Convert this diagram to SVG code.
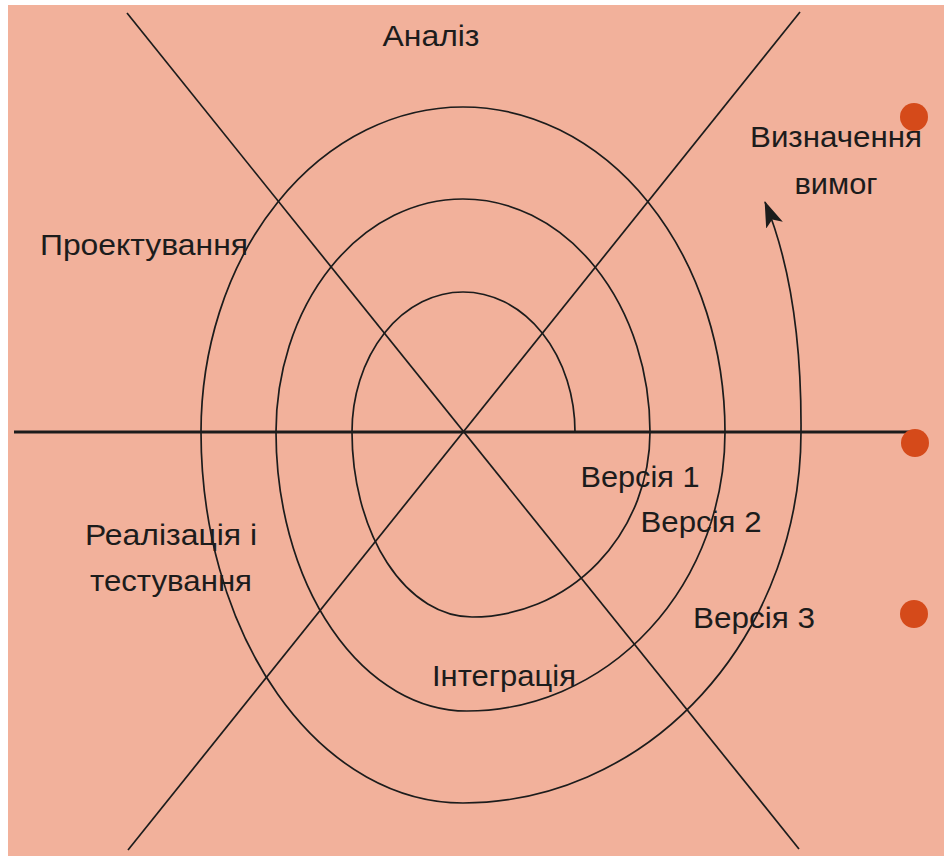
<svg xmlns="http://www.w3.org/2000/svg" width="944" height="856" viewBox="0 0 944 856">
  <style>
    .ln { fill: none; stroke: #1c1c1c; stroke-width: 1.7; }
    .axis { fill: none; stroke: #1c1c1c; stroke-width: 3; }
    .lbl { font-family: "Liberation Sans", Arial, sans-serif; font-size: 30px; fill: #1c1c1c; text-anchor: middle; }
    .dot { fill: #D54A1A; }
  </style>
  <defs>
    <marker id="arrow" viewBox="0 0 26 18" refX="25" refY="9" markerWidth="26" markerHeight="18" markerUnits="userSpaceOnUse" orient="auto">
      <path d="M0,0 L26,9 L0,18 L6,9 z" fill="#1c1c1c"/>
    </marker>
  </defs>
  <rect x="0" y="0" width="944" height="856" fill="#ffffff"/>
  <rect x="8" y="5" width="936" height="851" fill="#F2B19B"/>

  <g id="connectors">
    <line class="axis" x1="14" y1="432" x2="912" y2="432"/>
    <line class="ln" x1="127" y1="13" x2="799" y2="849"/>
    <line class="ln" x1="800" y1="12" x2="128" y2="850"/>
    <path id="spiral" class="ln" marker-end="url(#arrow)" d="M575,432
      A112,140 0 0 0 463,292
      A111,140 0 0 0 352,432
      A120,185 0 0 0 472,617
      A178,185 0 0 0 650,432
      A187,233 0 0 0 463,199
      A187,233 0 0 0 276,432
      A191,279 0 0 0 467,711
      A258,279 0 0 0 725,432
      A262,325 0 0 0 463,107
      A262,325 0 0 0 201,432
      A262,371 0 0 0 463,803
      A338,371 0 0 0 801,432
      Q802,292 765,202"/>
  </g>

  <g id="analiz"><text class="lbl" x="431" y="46" textLength="97" lengthAdjust="spacingAndGlyphs">Аналіз</text></g>
  <g id="vyznachennia">
    <text class="lbl" x="836" y="147" textLength="172" lengthAdjust="spacingAndGlyphs">Визначення</text>
    <text class="lbl" x="836" y="194" textLength="83" lengthAdjust="spacingAndGlyphs">вимог</text>
  </g>
  <g id="proektuvannia"><text class="lbl" x="144" y="255" textLength="208" lengthAdjust="spacingAndGlyphs">Проектування</text></g>
  <g id="realizatsiia">
    <text class="lbl" x="171" y="545" textLength="172" lengthAdjust="spacingAndGlyphs">Реалізація і</text>
    <text class="lbl" x="171" y="591" textLength="162" lengthAdjust="spacingAndGlyphs">тестування</text>
  </g>
  <g id="versiia1"><text class="lbl" x="640" y="487" textLength="119" lengthAdjust="spacingAndGlyphs">Версія 1</text></g>
  <g id="versiia2"><text class="lbl" x="701" y="532" textLength="121" lengthAdjust="spacingAndGlyphs">Версія 2</text></g>
  <g id="versiia3"><text class="lbl" x="754" y="628" textLength="122" lengthAdjust="spacingAndGlyphs">Версія 3</text></g>
  <g id="intehratsiia"><text class="lbl" x="504" y="686" textLength="144" lengthAdjust="spacingAndGlyphs">Інтеграція</text></g>

  <g id="bullets">
    <circle class="dot" cx="914" cy="117" r="14"/>
    <circle class="dot" cx="915" cy="443" r="14"/>
    <circle class="dot" cx="914" cy="614" r="14"/>
  </g>
</svg>
